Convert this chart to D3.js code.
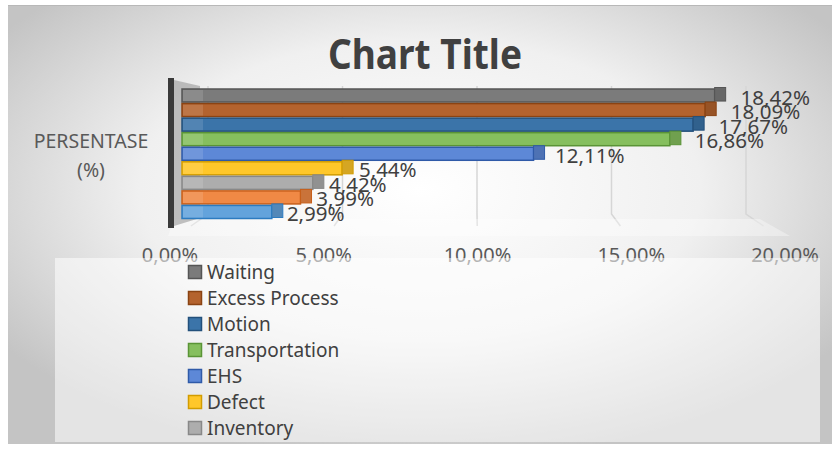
<!DOCTYPE html>
<html>
<head>
<meta charset="utf-8">
<script src="https://cdn.jsdelivr.net/npm/d3@7"></script>
<style>
  body { margin: 0; background: #fff; }
  svg { display: block; font-family: "Noto Sans", "Open Sans", sans-serif; }
</style>
</head>
<body>
<svg id="chart" width="832" height="449"></svg>
<script>
// data
var category = "PERSENTASE (%)";
var seriesNames = ["Waiting", "Excess Process", "Motion", "Transportation", "EHS", "Defect", "Inventory", "Overproduction", "Non-Utilized Talent"];
var seriesValues = [18.42, 18.09, 17.67, 16.86, 12.11, 5.44, 4.42, 3.99, 2.99];
var tickValues = [0, 5, 10, 15, 20];

var fills   = ["#7b7b7b", "#b4632e", "#3b74a9", "#86bf5e", "#5d88d7", "#ffc72a", "#adadad", "#f08945", "#63a3dc"];
var strokes = ["#555555", "#8a4313", "#23507b", "#5a9436", "#2f5aa8", "#d29c00", "#888888", "#c75f1a", "#2c7bc0"];

var svg = d3.select("#chart");
var fmt = function(v) { return v.toFixed(2).replace(".", ",") + "%"; };

// background
var defs = svg.append("defs");
var rg = defs.append("radialGradient").attr("id", "bg")
  .attr("cx", "0.5").attr("cy", "0.42").attr("r", "0.62");
rg.append("stop").attr("offset", "0").attr("stop-color", "#ffffff");
rg.append("stop").attr("offset", "0.55").attr("stop-color", "#f0f0f0");
rg.append("stop").attr("offset", "1").attr("stop-color", "#c4c4c4");

svg.append("rect").attr("x", 8).attr("y", 5).attr("width", 824).attr("height", 439)
  .attr("fill", "url(#bg)");
svg.append("line").attr("x1", 8).attr("x2", 832).attr("y1", 5.5).attr("y2", 5.5)
  .attr("stroke", "#b8b8b8");

// title
svg.append("text").attr("x", 425).attr("y", 69).attr("text-anchor", "middle")
  .attr("font-size", 41).attr("font-weight", "bold").attr("fill", "#404040")
  .attr("textLength", 194).attr("lengthAdjust", "spacingAndGlyphs")
  .text("Chart Title");

// scales: front face, back wall, floor front edge, label plane
var x = d3.scaleLinear().domain([0, 20]).range([186, 760]);
var xBack = d3.scaleLinear().domain([0, 20]).range([208, 746]);
var xFront = d3.scaleLinear().domain([0, 20]).range([170, 785]);
var xLabel = d3.scaleLinear().domain([0, 20]).range([199, 787]);
var y = d3.scaleBand().domain(seriesNames).range([88, 219]);

// gridlines (back wall + floor)
svg.append("g").selectAll("path").data(tickValues).enter().append("path")
  .attr("d", function(t) {
    return "M" + xBack(t) + ",86V214L" + (xBack(t) + (xFront(t) - xBack(t)) * 0.45) + ",226";
  })
  .attr("fill", "none").attr("stroke", "#d6d6d6").attr("stroke-width", 1.5);

// floor
svg.append("path").attr("d", "M174,219L760,219L790,236L168,236Z").attr("fill", "#ffffff").attr("opacity", 0.35);

// left wall
svg.append("path").attr("d", "M174,80L200,86L200,218L174,226Z").attr("fill", "#a0a0a0").attr("opacity", 0.65);
svg.append("rect").attr("x", 168).attr("y", 78).attr("width", 6).attr("height", 150).attr("fill", "#3a3a3a");

// bars
var bars = svg.append("g").selectAll("g").data(seriesNames).enter().append("g");
bars.append("rect")
  .attr("x", x(0) - 4)
  .attr("y", function(d) { return y(d) + 1; })
  .attr("width", function(d, i) { return x(seriesValues[i]) - x(0) + 4; })
  .attr("height", y.bandwidth() - 1.5)
  .attr("fill", function(d, i) { return fills[i]; })
  .attr("stroke", function(d, i) { return strokes[i]; })
  .attr("stroke-width", 1.5);
// lighter band near the wall
bars.append("rect")
  .attr("x", x(0) - 3)
  .attr("y", function(d) { return y(d) + 2; })
  .attr("width", 20)
  .attr("height", y.bandwidth() - 3.5)
  .attr("fill", "#ffffff").attr("opacity", 0.12);
// end caps
bars.append("rect")
  .attr("x", function(d, i) { return x(seriesValues[i]); })
  .attr("y", function(d) { return y(d) - 0.5; })
  .attr("width", 11)
  .attr("height", y.bandwidth() - 1)
  .attr("fill", function(d, i) { return d3.color(fills[i]).darker(0.5); })
  .attr("stroke", function(d, i) { return strokes[i]; })
  .attr("stroke-width", 1);

// data labels
svg.append("g").selectAll("text").data(seriesNames).enter().append("text")
  .attr("x", function(d, i) { return xLabel(seriesValues[i]); })
  .attr("y", function(d) { return y(d) + y.bandwidth() + 2; })
  .attr("font-size", 20.5).attr("fill", "#404040")
  .text(function(d, i) { return fmt(seriesValues[i]); });

// category label
var catParts = category.split(" ");
svg.append("g").selectAll("text").data(catParts).enter().append("text")
  .attr("x", 91).attr("y", function(d, i) { return 148 + i * 29; })
  .attr("text-anchor", "middle").attr("font-size", 19.5).attr("fill", "#595959")
  .text(function(d) { return d; });

// value axis labels
svg.append("g").selectAll("text").data(tickValues).enter().append("text")
  .attr("x", function(t) { return xFront(t); })
  .attr("y", 262).attr("text-anchor", "middle")
  .attr("font-size", 20).attr("fill", "#595959")
  .text(function(t) { return fmt(t); });

// legend (only the entries that fit in its box are shown)
var legTop = 258, legH = 184, legStep = 26;
svg.append("rect").attr("x", 55).attr("y", legTop).attr("width", 765).attr("height", legH)
  .attr("fill", "#ffffff").attr("opacity", 0.55);

var legendNames = seriesNames.filter(function(d, i) { return 14 + i * legStep + 10 < legH; });
var legend = svg.append("g")
  .selectAll("g").data(legendNames).enter().append("g")
  .attr("transform", function(d, i) { return "translate(188," + (legTop + 14 + i * legStep) + ")"; });
legend.append("rect").attr("x", 0.5).attr("y", -6.5).attr("width", 13).attr("height", 13)
  .attr("fill", function(d, i) { return fills[i]; })
  .attr("stroke", function(d, i) { return strokes[i]; }).attr("stroke-width", 1.5);
legend.append("text").attr("x", 19).attr("y", 7)
  .attr("font-size", 19).attr("fill", "#404040")
  .text(function(d) { return d; });
</script>
</body>
</html>
